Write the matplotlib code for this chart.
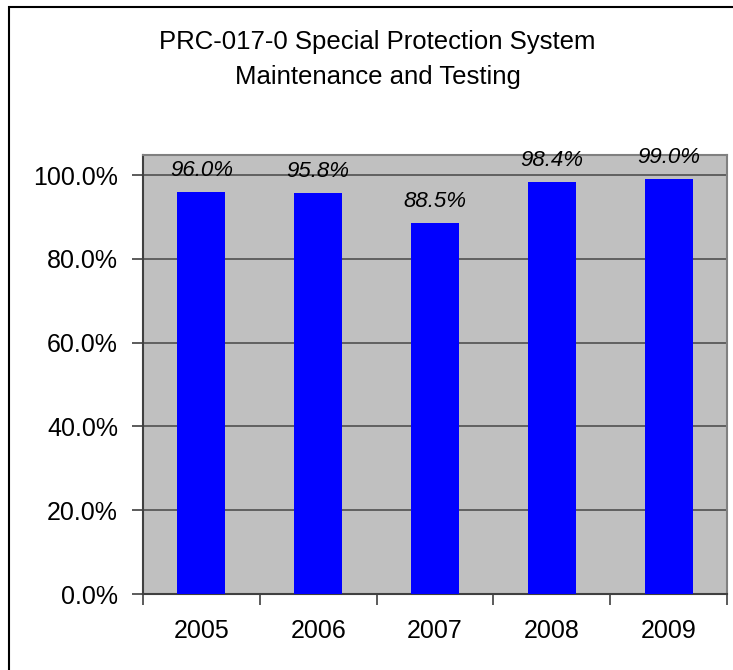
import matplotlib.pyplot as plt
from matplotlib.patches import Rectangle

years = ['2005', '2006', '2007', '2008', '2009']
values = [96.0, 95.8, 88.5, 98.4, 99.0]
labels = ['96.0%', '95.8%', '88.5%', '98.4%', '99.0%']
yticks = [0, 20, 40, 60, 80, 100]

plt.rcParams['font.family'] = ['Liberation Sans', 'DejaVu Sans']

W, H = 733, 670
fig = plt.figure(figsize=(W / 100, H / 100), dpi=100)

# outer chart border (right/bottom edges fall off the image)
fig.patches.append(Rectangle((9 / W, -0.05), 1.0, 1 - 7 / H + 0.05,
                             transform=fig.transFigure, fill=False,
                             edgecolor='black', linewidth=1.5))

ax = fig.add_axes([143 / W, 1 - 594 / H, (727 - 143) / W, (594 - 155) / H])
ax.set_facecolor('#c0c0c0')
x = range(len(years))
bars = ax.bar(x, values, width=0.41, color='#0000ff', zorder=3)
for rect, lab in zip(bars, labels):
    ax.annotate(lab, xy=(rect.get_x() + rect.get_width() / 2, rect.get_height()),
                xytext=(0, 8), textcoords='offset points',
                ha='center', va='bottom', fontsize=16, style='italic')

ax.set_xlim(-0.5, len(years) - 0.5)
ax.set_ylim(0, 104.8)
ax.set_yticks(yticks)
ax.set_yticklabels(['{:.1f}%'.format(v) for v in yticks], fontsize=18)
ax.set_xticks(list(x))
ax.set_xticklabels(years, fontsize=18)
ax.set_xticks([i - 0.5 for i in range(len(years) + 1)], minor=True)
ax.tick_params(axis='x', which='major', length=0, pad=18)
ax.tick_params(axis='x', which='minor', length=8, width=1.2, color='#404040')
ax.tick_params(axis='y', length=8, width=1.2, color='#404040', pad=10)
ax.yaxis.grid(True, color='#505050', linewidth=1.2, zorder=1)
ax.set_axisbelow(True)
for side in ['top', 'right']:
    ax.spines[side].set_color('#808080')
    ax.spines[side].set_linewidth(1.5)
for side in ['left', 'bottom']:
    ax.spines[side].set_color('#404040')
    ax.spines[side].set_linewidth(1.5)

fig.text(0.515, 1 - 42 / H, 'PRC-017-0 Special Protection System',
         ha='center', va='center', fontsize=18.5)
fig.text(0.515, 1 - 77 / H, 'Maintenance and Testing',
         ha='center', va='center', fontsize=18.5)

fig.savefig('out.png', dpi=100)
